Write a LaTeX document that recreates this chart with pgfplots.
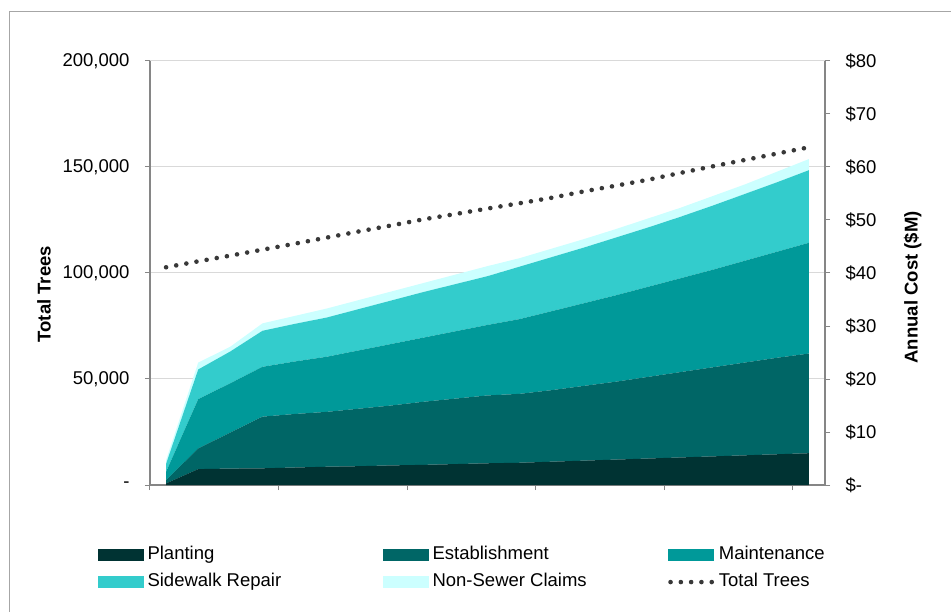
\documentclass[border=0pt]{standalone}
\usepackage{pgfplots}
\pgfplotsset{compat=1.18}
\usepackage{pgfplotstable}
\usepackage{fontspec}
\setmainfont{Liberation Sans}

\definecolor{cPlant}{HTML}{003333}
\definecolor{cEstab}{HTML}{006666}
\definecolor{cMaint}{HTML}{009999}
\definecolor{cSide}{HTML}{33CCCC}
\definecolor{cClaim}{HTML}{CCFFFF}
\definecolor{cTrees}{HTML}{383838}
\definecolor{cAxis}{HTML}{868686}
\definecolor{cGrid}{HTML}{D9D9D9}
\definecolor{cFrame}{HTML}{A6A6A6}

\newcommand\chartfont{\fontsize{18.5pt}{22pt}\selectfont}

% Annual cost components ($M) and total tree count, one row per year step
\pgfplotstableread{
i  planting establishment maintenance sidewalk claims trees
0  0.3   0.6   1.6   1.5   0.7  102700
1  3.0   3.9   9.3   5.6   1.3  105500
2  3.1   6.8   9.3   6.0   0.9  108200
3  3.15  9.75  9.4   6.8   1.4  111000
4  3.3   10.1  9.9   7.1   1.5  113800
5  3.45  10.35 10.4  7.4   1.7  116700
6  3.55  10.85 11.0  7.8   1.7  119600
7  3.7   11.3  11.6  8.2   1.7  122400
8  3.8   11.9  12.1  8.6   1.7  125300
9  3.95  12.35 12.7  8.9   1.8  127800
10 4.1   12.8  13.3  9.2   1.9  130400
11 4.2   13.0  14.1  9.9   1.6  132900
12 4.4   13.5  14.9  10.2  1.6  135500
13 4.6   14.1  15.6  10.5  1.6  138500
14 4.8   14.7  16.3  10.9  1.6  141200
15 5.0   15.4  17.0  11.2  1.7  144000
16 5.2   16.1  17.7  11.6  1.7  147200
17 5.4   16.8  18.4  12.1  1.8  150300
18 5.6   17.5  19.2  12.6  1.8  153300
19 5.8   18.2  20.0  13.1  2.0  156300
20 6.0   18.8  20.9  13.7  2.1  159300
}\costdata

\tikzset{
  dotline/.style={cTrees, line width=4.6pt, line cap=round,
    dash pattern=on 0pt off 10.3pt},
}

\pgfplotsset{
  frame/.style={
    width=675pt, height=424pt, scale only axis,
    at={(150pt,126pt)}, anchor=south west,
    xmin=-0.5, xmax=20.5,
    scaled y ticks=false,
    tick label style={font=\chartfont},
    axis line style={cAxis, line width=1.2pt},
    major tick style={cAxis, line width=1pt},
    major tick length=5pt,
    tick align=outside,
  },
}

\begin{document}
\begin{tikzpicture}[x=1pt,y=1pt]
\useasboundingbox (0,0) rectangle (951,611);
\draw[cFrame, line width=1pt] (9,-20) -- (9,599) -- (970,599);

% left axis: tree counts, grid and frame
\begin{axis}[frame,
  ymin=0, ymax=200000,
  axis x line*=bottom, axis y line*=left,
  xtick={-0.5,3.5,7.5,11.5,15.5,19.5}, xticklabels={},
  ytick={0,50000,100000,150000,200000},
  yticklabels={-,{50,000},{100,000},{150,000},{200,000}},
  yticklabel style={xshift=-12pt},
  ymajorgrids, grid style={cGrid, line width=1pt},
  ylabel={Total Trees},
  every axis y label/.style={at={(rel axis cs:-0.157,0.45)}, rotate=90,
    anchor=center, font=\chartfont\bfseries},
]
\end{axis}

% right axis: stacked annual cost components
\begin{axis}[frame,
  ymin=0, ymax=80,
  axis x line=none, axis y line*=right,
  ytick={0,10,...,80},
  yticklabels={\$-,\$10,\$20,\$30,\$40,\$50,\$60,\$70,\$80},
  yticklabel style={xshift=12pt},
  ylabel={Annual Cost (\$M)},
  every axis y label/.style={at={(rel axis cs:1.13,0.466)}, rotate=90,
    anchor=center, font=\chartfont\bfseries},
  stack plots=y,
  legend columns=3,
  legend cell align=left,
  legend style={draw=none, fill=none, font=\chartfont,
    at={(rel axis cs:-0.078,-0.14)}, anchor=north west,
    inner sep=0pt, row sep=6pt,
    nodes={text height=13pt, text depth=4pt},
    /tikz/every odd column/.append style={column sep=2pt}},
  legend image code/.code={\fill[#1] (0pt,-6pt) rectangle (46pt,6pt);},
]
\addplot[fill=cPlant, draw=none] table[x=i, y=planting] {\costdata} \closedcycle;
\addlegendentry{\makebox[233pt][l]{Planting}}
\addplot[fill=cEstab, draw=none] table[x=i, y=establishment] {\costdata} \closedcycle;
\addlegendentry{\makebox[233pt][l]{Establishment}}
\addplot[fill=cMaint, draw=none] table[x=i, y=maintenance] {\costdata} \closedcycle;
\addlegendentry{Maintenance}
\addplot[fill=cSide, draw=none] table[x=i, y=sidewalk] {\costdata} \closedcycle;
\addlegendentry{\makebox[233pt][l]{Sidewalk Repair}}
\addplot[fill=cClaim, draw=none] table[x=i, y=claims] {\costdata} \closedcycle;
\addlegendentry{\makebox[233pt][l]{Non-Sewer Claims}}
\addlegendimage{legend image code/.code={\draw[dotline] (3pt,0pt) -- (45pt,0pt);}}
\addlegendentry{Total Trees}
\end{axis}

% left axis again: total trees line above the areas
\begin{axis}[frame, hide axis, ymin=0, ymax=200000, clip=false]
\addplot[dotline] table[x=i, y=trees] {\costdata};
\end{axis}
\end{tikzpicture}
\end{document}
